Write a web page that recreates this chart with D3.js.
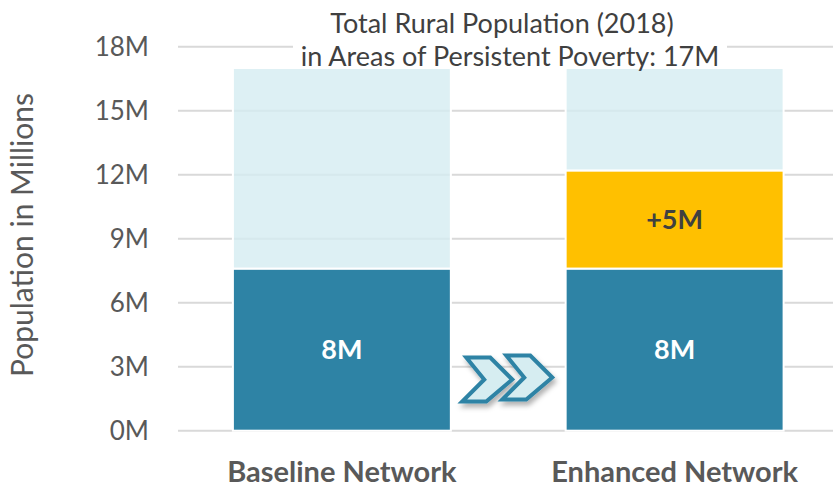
<!DOCTYPE html>
<html>
<head>
<meta charset="utf-8">
<script src="https://cdn.jsdelivr.net/npm/d3@7/dist/d3.min.js"></script>
<style>
  html, body { margin: 0; padding: 0; background: #ffffff; }
  svg { display: block; }
  text { font-family: Lato, "Open Sans", sans-serif; }
</style>
</head>
<body>
<svg id="chart" width="833" height="487"></svg>
<script>
// Rural population in areas of persistent poverty, millions
const categories = ["Baseline Network", "Enhanced Network"];
const reached    = [7.6, 7.6];   // population already covered
const added      = [0, 4.6];     // extra population covered by the enhanced network
const total      = [17, 17];     // total rural population (2018)
const yTicks     = [0, 3, 6, 9, 12, 15, 18];
const titleLines = ["Total Rural Population (2018)", "in Areas of Persistent Poverty: 17M"];
const yTitle     = "Population in Millions";

const colors = { reached: "#2e83a5", added: "#ffc000", rest: "#d5ecf1", grid: "#d9d9d9", text: "#595959" };

const svg = d3.select("#chart");

const y = d3.scaleLinear().domain([0, 18]).range([430.7, 46.7]);
const x = d3.scaleBand().domain(categories)
  .range([175.5, 841]).paddingInner(0.345).paddingOuter(0.1725);

const gridLeft = 178, gridRight = 833;

// horizontal gridlines
svg.append("g").selectAll("line").data(yTicks).join("line")
  .attr("x1", gridLeft).attr("x2", gridRight)
  .attr("y1", d => y(d)).attr("y2", d => y(d))
  .attr("stroke", colors.grid).attr("stroke-width", 2);

// y tick labels
svg.append("g").selectAll("text").data(yTicks).join("text")
  .attr("x", 149).attr("y", d => y(d)).attr("dy", "0.36em")
  .attr("text-anchor", "end")
  .attr("font-size", 26).attr("fill", colors.text)
  .text(d => d + "M");

// y axis title
svg.append("text")
  .attr("transform", `translate(33, 235) rotate(-90)`)
  .attr("text-anchor", "middle")
  .attr("font-size", 30).attr("fill", colors.text)
  .text(yTitle);

// stacked segments
const rows = categories.map((c, i) => ({
  cat: c,
  segs: [
    { key: "reached", y0: 0, y1: reached[i], v: reached[i] },
    { key: "added", y0: reached[i], y1: reached[i] + added[i], v: added[i] },
    { key: "rest", y0: reached[i] + added[i], y1: total[i], v: total[i] - reached[i] - added[i] }
  ].filter(s => s.v > 0)
}));

const bars = svg.append("g");
rows.forEach(r => {
  bars.selectAll(null).data(r.segs).join("rect")
    .attr("x", x(r.cat)).attr("width", x.bandwidth())
    .attr("y", d => y(d.y1)).attr("height", d => y(d.y0) - y(d.y1))
    .attr("fill", d => colors[d.key])
    .attr("fill-opacity", d => d.key === "rest" ? 0.8 : 1)
    .attr("stroke", "#ffffff").attr("stroke-width", 2);

  // value labels
  bars.selectAll(null).data(r.segs.filter(s => s.key !== "rest")).join("text")
    .attr("x", x(r.cat) + x.bandwidth() / 2)
    .attr("y", d => (y(d.y0) + y(d.y1)) / 2).attr("dy", "0.36em")
    .attr("text-anchor", "middle")
    .attr("font-size", 27).attr("font-weight", 700)
    .attr("fill", d => d.key === "reached" ? "#ffffff" : "#404040")
    .text(d => (d.key === "added" ? "+" : "") + Math.round(d.v) + "M");
});

// category labels
svg.append("g").selectAll("text").data(categories).join("text")
  .attr("x", d => x(d) + x.bandwidth() / 2).attr("y", 482)
  .attr("text-anchor", "middle")
  .attr("font-size", 29).attr("font-weight", 700).attr("fill", colors.text)
  .text(d => d);

// title block with a white backing over the top gridline
const title = svg.append("g");
title.append("rect").attr("x", 293).attr("y", 42).attr("width", 434).attr("height", 26).attr("fill", "#ffffff");
title.selectAll("text").data(titleLines).join("text")
  .attr("x", (d, i) => i === 0 ? 502 : 510).attr("y", (d, i) => 33 + i * 33)
  .attr("text-anchor", "middle")
  .attr("font-size", 27).attr("fill", "#404040")
  .text(d => d);

// double chevron between the two bars
const defs = svg.append("defs");
const f = defs.append("filter").attr("id", "shadow").attr("x", "-30%").attr("y", "-30%").attr("width", "160%").attr("height", "170%");
f.append("feDropShadow").attr("dx", 2).attr("dy", 4).attr("stdDeviation", 2.5)
  .attr("flood-color", "#000").attr("flood-opacity", 0.3);

const gapMid = (x(categories[0]) + x.bandwidth() + x(categories[1])) / 2;
const cy = y(2.4);
function chevron(cx, cyy) {
  const w = 50, h = 44, t = 24;
  const l = cx - w / 2, r = cx + w / 2, top = cyy - h / 2, bot = cyy + h / 2;
  return `M${l + 4},${top} L${l + 4 + t},${top} L${r},${cyy} L${l + t},${bot} L${l},${bot} L${l + 22},${cyy} Z`;
}
const chev = svg.append("g").attr("filter", "url(#shadow)");
[gapMid - 21, gapMid + 19].forEach((cx, i) => {
  chev.append("path").attr("d", chevron(cx, cy - i * 2))
    .attr("fill", "#d6edf1").attr("stroke", colors.reached)
    .attr("stroke-width", 4).attr("stroke-linejoin", "miter");
});
</script>
</body>
</html>
